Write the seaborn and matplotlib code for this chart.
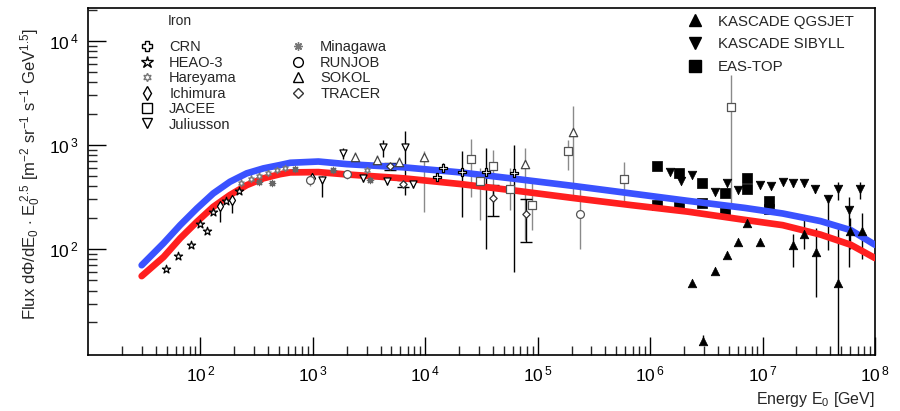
import numpy as np
import pandas as pd
import matplotlib
matplotlib.use('Agg')
import matplotlib.pyplot as plt
import seaborn as sns
from matplotlib.lines import Line2D
from matplotlib.ticker import LogLocator, NullFormatter

# ----- model curves -----
curve_E = [30, 47, 66, 93, 130, 183, 258, 363, 510, 630, 1120, 2000, 6430, 20600,
           65900, 2.11e5, 6.76e5, 2.17e6, 6.93e6, 1.51e7, 3.27e7, 6.1e7, 1e8]
blue_F = [70, 114, 170, 246, 343, 444, 535, 597, 643, 676, 695, 656, 611, 546,
          471, 404, 343, 291, 249, 220, 186, 152, 110]
red_F = [55, 84, 127, 183, 255, 331, 412, 479, 525, 546, 550, 522, 479, 422,
         363, 309, 265, 229, 191, 170, 138, 110, 82]

# ----- direct measurements -----
crn_E = [12600, 14300, 21400, 34700, 61700]
crn_F = [490, 603, 550, 550, 537]
crn_lo = [420, 540, 204, 100, 60]
crn_hi = [560, 680, 871, 933, 1000]

heao_E = [49, 63, 82, 115, 100, 130, 170, 220]
heao_F = [65, 85, 110, 148, 175, 225, 290, 360]

hare_E = [230, 280, 330, 400, 480, 560, 3020]
hare_F = [430, 470, 500, 540, 575, 600, 575]
hare_lo = [400, 440, 465, 500, 535, 560, 530]
hare_hi = [470, 520, 560, 600, 650, 680, 620]

ichi_E = [150, 190, 975]
ichi_F = [258, 295, 480]
ichi_lo = [182, 220, 430]
ichi_hi = [270, 305, 520]

jace_E = [25700, 30900, 39800, 56900, 89100, 186000, 589000, 5.25e6]
jace_F = [741, 447, 631, 380, 263, 881, 468, 2344]
jace_lo = [316, 191, 282, 240, 151, 575, 275, 263]
jace_hi = [1148, 603, 891, 600, 457, 1122, 692, 4677]

juli_E = [1200, 1860, 2820, 4170, 4570, 6600, 7760]
juli_F = [457, 832, 480, 950, 447, 955, 427]
juli_lo = [316, 740, 440, 760, 410, 331, 390]
juli_hi = [500, 930, 520, 1120, 490, 1380, 470]

mina_E = [330, 430, 700, 1510, 3240]
mina_F = [440, 436, 590, 575, 457]

runj_E = [944, 2000, 240000]
runj_F = [457, 525, 219]
runj_lo = [400, 470, 100]
runj_hi = [500, 580, 427]

soko_E = [2370, 3720, 5890, 9770, 77600, 204000]
soko_F = [776, 724, 692, 776, 661, 1349]
soko_lo = [700, 660, 620, 229, 123, 316]
soko_hi = [860, 800, 770, 870, 933, 2400]

trac_E = [4900, 6310, 40300, 79400]
trac_F = [630, 427, 309, 219]
trac_lo = [580, 395, 209, 117]
trac_hi = [680, 460, 417, 302]

# ----- air shower results -----
qgs_E = [2.38e6, 2.95e6, 3.8e6, 4.8e6, 6.0e6, 7.2e6, 9.5e6, 1.88e7, 2.34e7, 3.0e7, 4.7e7, 6.0e7, 7.6e7]
qgs_F = [47, 13, 62, 87, 117, 178, 117, 110, 141, 94, 47, 148, 148]
qgs_lo = [47, 13, 62, 87, 117, 178, 117, 68, 100, 35, 5, 100, 81]
qgs_hi = [47, 15, 62, 87, 117, 178, 117, 141, 195, 158, 158, 200, 224]

sib_E = [1.51e6, 1.89e6, 2.38e6, 3.8e6, 4.8e6, 6.0e6, 9.5e6, 1.2e7, 1.51e7, 1.88e7,
         2.34e7, 2.95e7, 3.8e7, 4.73e7, 5.9e7, 7.4e7]
sib_F = [555, 455, 515, 355, 435, 370, 410, 405, 445, 430, 435, 380, 300, 380, 237, 380]
sib_lo = [555, 455, 515, 355, 435, 370, 410, 405, 445, 395, 400, 345, 98, 295, 68, 300]
sib_hi = [555, 455, 515, 355, 435, 370, 410, 405, 445, 470, 475, 415, 330, 445, 316, 440]

eas_E = [1.15e6, 1.15e6, 1.82e6, 1.82e6, 2.88e6, 2.88e6, 4.68e6, 4.68e6, 7.24e6, 7.24e6, 1.15e7, 1.15e7]
eas_F = [630, 265, 540, 270, 430, 280, 345, 220, 480, 380, 290, 245]

# ----- style -----
sns.set_style('ticks')
plt.rcParams['font.family'] = ['Liberation Sans', 'DejaVu Sans']
plt.rcParams['mathtext.fontset'] = 'custom'
plt.rcParams['mathtext.rm'] = 'Liberation Sans'
plt.rcParams['mathtext.it'] = 'Liberation Sans:italic'
plt.rcParams['mathtext.bf'] = 'Liberation Sans:bold'

fig = plt.figure(figsize=(9, 4.11), dpi=100)
ax = fig.add_axes([0.0978, 0.1363, 0.8744, 0.8443])
ax.set_xscale('log')
ax.set_yscale('log')

# ----- curves -----
n = len(curve_E)
curves = pd.DataFrame({'E': curve_E * 2, 'F': blue_F + red_F,
                       'model': ['blue'] * n + ['red'] * n})
sns.lineplot(data=curves, x='E', y='F', hue='model',
             palette={'blue': '#3a52ff', 'red': '#ff1f1f'},
             lw=4.8, legend=False, sort=False, ax=ax, zorder=3,
             solid_capstyle='round', solid_joinstyle='round')


def draw(E, F, lo, hi, marker, size, ecol='black', bcol='black', cap=0, filled=True):
    E = np.array(E, float)
    F = np.array(F, float)
    if lo is not None:
        ax.errorbar(E, F, yerr=[F - np.array(lo), np.array(hi) - F], fmt='none',
                    ecolor=bcol, elinewidth=1.0, capsize=cap, capthick=1.0, zorder=2)
    if filled:
        sns.scatterplot(x=E, y=F, marker=marker, s=size, facecolor='white',
                        edgecolor=ecol, linewidth=0.9, ax=ax, zorder=4)
    else:
        sns.scatterplot(x=E, y=F, marker=marker, s=size, color=ecol,
                        linewidth=0.9, ax=ax, zorder=4)


grey = '#8a8a8a'
draw(crn_E, crn_F, crn_lo, crn_hi, 'P', 26)
draw(heao_E, heao_F, None, None, '*', 38)
draw(hare_E, hare_F, hare_lo, hare_hi, (6, 1, 0), 20, ecol='#777777')
draw(ichi_E, ichi_F, ichi_lo, ichi_hi, 'd', 26)
draw(jace_E, jace_F, jace_lo, jace_hi, 's', 32, ecol='#555555', bcol=grey)
draw(juli_E, juli_F, juli_lo, juli_hi, 'v', 26)
draw(mina_E, mina_F, None, None, (8, 2, 0), 20, ecol='#666666', filled=False)
draw(runj_E, runj_F, runj_lo, runj_hi, 'o', 32, ecol='#555555', bcol=grey)
draw(soko_E, soko_F, soko_lo, soko_hi, '^', 36, ecol='#444444', bcol=grey)
draw(trac_E, trac_F, trac_lo, trac_hi, 'D', 14, ecol='#333333', cap=4)

for E, F, lo, hi, m in [(qgs_E, qgs_F, qgs_lo, qgs_hi, '^'),
                        (sib_E, sib_F, sib_lo, sib_hi, 'v')]:
    E = np.array(E, float)
    F = np.array(F, float)
    ax.errorbar(E, F, yerr=[F - np.array(lo), np.array(hi) - F], fmt='none',
                ecolor='black', elinewidth=1.0, zorder=2)
    sns.scatterplot(x=E, y=F, marker=m, s=38, color='black', edgecolor='black',
                    linewidth=0.5, ax=ax, zorder=4)
sns.scatterplot(x=eas_E, y=eas_F, marker='s', s=46, color='black', edgecolor='black',
                linewidth=0.5, ax=ax, zorder=2.5)

# ----- axes -----
ax.set_xlim(10, 1e8)
ax.set_ylim(9.6, 2.08e4)
ax.set_xticks([1e2, 1e3, 1e4, 1e5, 1e6, 1e7, 1e8])
ax.set_xticklabels([r'$10^{\,%d}$' % k for k in range(2, 9)])
ax.set_yticks([1e2, 1e3, 1e4])
ax.set_yticklabels([r'$10^{\,%d}$' % k for k in range(2, 5)])
for a in (ax.xaxis, ax.yaxis):
    a.set_minor_locator(LogLocator(base=10, subs=np.arange(2, 10), numticks=100))
    a.set_minor_formatter(NullFormatter())
ax.tick_params(which='major', direction='in', length=13, width=1.0,
               top=False, right=False, labelsize=12.5, pad=7, colors='black')
ax.tick_params(which='minor', direction='in', length=6.5, width=1.0,
               top=False, right=False)
for s in ax.spines.values():
    s.set_linewidth(1.2)
    s.set_color('black')

ax.set_xlabel(r'Energy E$_0$ [GeV]', fontsize=11.5, loc='right')
ax.xaxis.set_label_coords(1.0, -0.1)
ax.set_ylabel(r'Flux d$\Phi$/dE$_0$ $\cdot$ E$_0^{\ 2.5}$ [m$^{-2}$ sr$^{-1}$ s$^{-1}$ GeV$^{1.5}$]',
              fontsize=12)
ax.yaxis.set_label_coords(-0.057, 0.52)

# ----- legends -----
def h(m, fc='white', ec='black', ms=7):
    return Line2D([], [], marker=m, linestyle='none', markerfacecolor=fc,
                  markeredgecolor=ec, markersize=ms, markeredgewidth=1.0)

leg_kw = dict(frameon=False, handlelength=1.0, handletextpad=1.0,
              borderpad=0, borderaxespad=0, loc='upper left')
col1 = [h('P'), h('*', ms=9), h((6, 1, 0), ec='#777777', ms=6), h('d'), h('s'), h('v')]
col1_lab = ['CRN', 'HEAO-3', 'Hareyama', 'Ichimura', 'JACEE', 'Juliusson']
col2 = [h((8, 2, 0), fc='#777777', ec='#777777', ms=6), h('o'), h('^'), h('D', ec='#333333', ms=5)]
col2_lab = ['Minagawa', 'RUNJOB', 'SOKOL', 'TRACER']
l1 = ax.legend(col1, col1_lab, bbox_to_anchor=(0.066, 0.907), labelspacing=0.1,
               fontsize=10.5, **leg_kw)
ax.add_artist(l1)
l2 = ax.legend(col2, col2_lab, bbox_to_anchor=(0.258, 0.907), labelspacing=0.1,
               fontsize=10.5, **leg_kw)
ax.add_artist(l2)
col3 = [h('^', fc='black', ms=8), h('v', fc='black', ms=8), h('s', fc='black', ms=8)]
col3_lab = ['KASCADE QGSJET', 'KASCADE SIBYLL', 'EAS-TOP']
ax.legend(col3, col3_lab, bbox_to_anchor=(0.762, 0.981), labelspacing=0.59,
          fontsize=10.8, **leg_kw)
ax.text(0.1017, 0.963, 'Iron', transform=ax.transAxes, fontsize=10, va='center', ha='left')

fig.savefig('out.png', dpi=100)
